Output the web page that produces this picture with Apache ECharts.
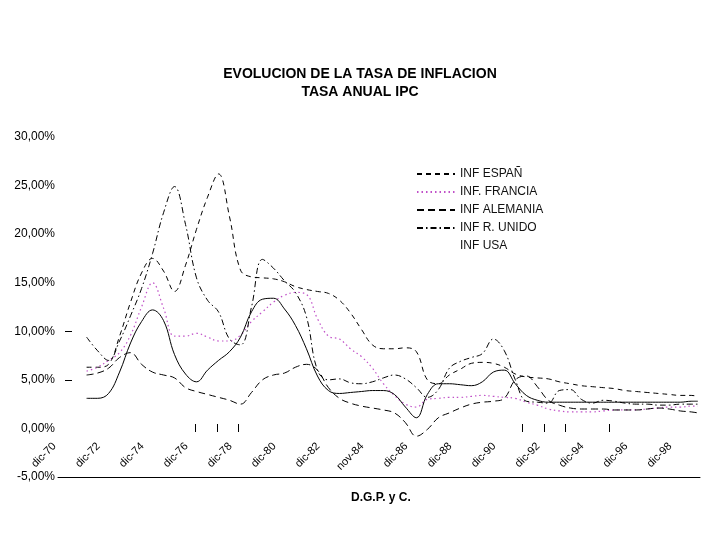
<!DOCTYPE html>
<html>
<head>
<meta charset="utf-8">
<script src="https://cdn.jsdelivr.net/npm/echarts@6/dist/echarts.min.js"></script>
<style>html,body{margin:0;padding:0;background:#fff}#c{width:720px;height:540px}</style>
</head>
<body>
<div id="c"></div>
<script>
// Años (fracción decimal, 70 = dic-70)
const anos = [71.3,71.8,72.3,72.8,73.3,73.8,74.3,74.8,75.3,75.8,76.3,76.8,77.3,77.8,78.3,78.8,79.3,79.8,80.3,80.8,81.3,81.8,82.3,82.8,83.3,83.8,84.3,84.8,85.3,85.8,86.3,86.8,87.3,87.8,88.3,88.8,89.3,89.8,90.3,90.8,91.3,91.8,92.3,92.8,93.3,93.8,94.3,94.8,95.3,95.8,96.3,96.8,97.3,97.8,98.3,98.8,99.1];
const espana = [6.3,6.3,6.6,9.5,13.0,16.0,17.5,16.2,14.1,16.8,20.5,23.8,26.2,21.8,16.3,15.6,15.5,15.4,15.1,14.6,14.3,14.1,13.9,13.2,11.9,10.2,8.6,8.2,8.2,8.3,7.9,5.0,4.6,5.5,6.1,6.7,6.8,6.7,6.3,5.6,5.3,5.2,5.1,4.8,4.6,4.4,4.3,4.2,4.1,3.9,3.8,3.7,3.6,3.5,3.4,3.4,3.3];
const francia = [5.9,6.3,7.0,7.8,9.6,12.5,15.0,12.4,9.5,9.5,9.8,9.4,9.0,9.0,9.6,11.0,12.0,13.0,13.7,14.0,13.8,11.3,9.5,9.2,8.2,7.4,6.2,4.6,3.4,2.5,2.2,3.0,3.1,3.2,3.2,3.3,3.4,3.3,3.2,3.1,2.7,2.4,2.0,1.8,1.7,1.7,1.7,1.8,1.9,1.9,1.9,2.0,2.1,2.2,2.2,2.3,2.3];
const alemania = [5.5,5.7,6.2,7.3,7.8,6.6,5.8,5.5,5.2,4.2,3.8,3.5,3.2,2.9,2.5,3.7,5.0,5.5,5.7,6.3,6.6,6.0,4.2,3.1,2.6,2.3,2.1,1.9,1.6,0.6,-0.8,-0.1,1.1,1.6,2.1,2.5,2.7,2.8,3.1,5.0,5.4,4.3,2.9,2.4,2.1,2.0,2.0,2.0,1.9,1.9,1.9,2.0,2.1,2.0,1.8,1.7,1.6];
const reinoUnido = [9.4,8.0,7.0,9.0,11.6,14.4,18.0,22.2,24.9,21.0,15.5,13.2,12.0,9.2,8.6,12.5,17.4,16.5,15.2,14.0,11.5,6.0,5.0,5.1,4.7,4.6,4.8,5.2,5.5,5.1,4.2,3.2,4.0,6.2,6.9,7.3,7.7,9.2,8.0,5.0,2.8,2.7,2.6,3.9,4.0,3.0,2.6,2.9,2.8,2.6,2.5,2.5,2.4,2.4,2.5,2.5,2.5];
const usa = [3.1,3.1,3.6,5.8,8.8,11.0,12.2,11.1,7.6,5.6,4.8,6.0,7.0,7.9,9.4,12.0,13.3,13.4,12.3,10.6,8.2,5.4,3.9,3.6,3.7,3.8,3.9,3.9,3.5,2.2,1.1,3.5,4.6,4.6,4.5,4.4,4.8,5.8,6.0,4.6,3.4,2.9,2.7,2.7,2.7,2.7,2.7,2.7,2.7,2.7,2.7,2.7,2.7,2.7,2.7,2.8,2.8];
const etiquetas = ['dic-70','dic-72','dic-74','dic-76','dic-78','dic-80','dic-82','nov-84','dic-86','dic-88','dic-90','dic-92','dic-94','dic-96','dic-98'];
const marcasX = [76.25,77.25,78.2,91.1,92.1,93.05,95.05];
const marcasY = [5,10];
const nombres = ['INF ESPAÑ','INF. FRANCIA','INF ALEMANIA','INF R. UNIDO','INF USA'];

const FONT = 'Liberation Sans, Arial, sans-serif';
const pares = v => anos.map((a,i)=>[a, v[i]]);
const chart = echarts.init(document.getElementById('c'));
const xBase = {type:'value', min:70, max:99.2, interval:2, splitLine:{show:false}};
chart.setOption({
  animation:false,
  backgroundColor:'#fff',
  color:['#000','#c050c8','#000','#000','#000'],
  title:[
    {text:'EVOLUCION DE LA TASA DE INFLACION', subtext:'TASA ANUAL IPC', left:'center', top:62,
     itemGap:4,
     textStyle:{fontFamily:FONT, fontSize:14, fontWeight:'bold', color:'#000'},
     subtextStyle:{fontFamily:FONT, fontSize:14, fontWeight:'bold', color:'#000'}},
    {text:'D.G.P. y C.', left:346, top:487, textStyle:{fontFamily:FONT, fontSize:12, fontWeight:'bold', color:'#000'}}
  ],
  legend:{
    orient:'vertical', left:416, top:168, padding:0, itemWidth:38, itemHeight:12, itemGap:6,
    itemStyle:{opacity:0},
    textStyle:{fontFamily:FONT, fontSize:12, color:'#111'},
    data:[{name:nombres[0]},{name:nombres[1]},{name:nombres[2]},{name:nombres[3]},
          {name:nombres[4], lineStyle:{opacity:0}, itemStyle:{opacity:0}}]
  },
  grid:{left:58, right:20, top:137, bottom:63, containLabel:false},
  xAxis:[
    Object.assign({}, xBase, {axisLine:{show:true, onZero:false, lineStyle:{color:'#000', width:1}}, axisTick:{show:false}, axisLabel:{show:false}}),
    Object.assign({}, xBase, {position:'bottom', offset:-40, axisLine:{show:false, onZero:false}, axisTick:{show:false},
      axisLabel:{show:true, rotate:45, margin:4, padding:[0,5,0,0], fontFamily:FONT, fontSize:11, color:'#000', showMinLabel:true,
        formatter:function(v){ const i=Math.round((v-70)/2); return (Math.abs(v-(70+2*i))<1e-6 && etiquetas[i]) ? etiquetas[i] : ''; }}}),
    Object.assign({}, xBase, {position:'bottom', offset:-53, axisLine:{show:false, onZero:false}, axisLabel:{show:false},
      axisTick:{show:true, length:8, customValues:marcasX, lineStyle:{color:'#000'}}})
  ],
  yAxis:{type:'value', min:-5, max:30, interval:5, offset:-7,
    axisLine:{show:false}, splitLine:{show:false},
    axisTick:{show:true, inside:true, length:7, customValues:marcasY, lineStyle:{color:'#000'}},
    axisLabel:{margin:10, fontFamily:FONT, fontSize:12, color:'#000',
      formatter:v => v.toFixed(2).replace('.',',')+'%'}},
  series:[
    {name:nombres[0], type:'line', data:pares(espana), smooth:0.4, symbol:'none', itemStyle:{color:'#000'}, lineStyle:{color:'#000', width:1, type:[5,4]}},
    {name:nombres[1], type:'line', data:pares(francia), smooth:0.4, symbol:'none', itemStyle:{color:'#c050c8'}, lineStyle:{color:'#c050c8', width:1.2, type:[1.5,3]}},
    {name:nombres[2], type:'line', data:pares(alemania), smooth:0.4, symbol:'none', itemStyle:{color:'#000'}, lineStyle:{color:'#000', width:1, type:[7,4]}},
    {name:nombres[3], type:'line', data:pares(reinoUnido), smooth:0.4, symbol:'none', itemStyle:{color:'#000'}, lineStyle:{color:'#000', width:1, type:[6,3,1.5,3]}},
    {name:nombres[4], type:'line', data:pares(usa), smooth:0.4, symbol:'none', itemStyle:{color:'#000'}, lineStyle:{color:'#000', width:1, type:'solid'}}
  ]
});
</script>
</body>
</html>
